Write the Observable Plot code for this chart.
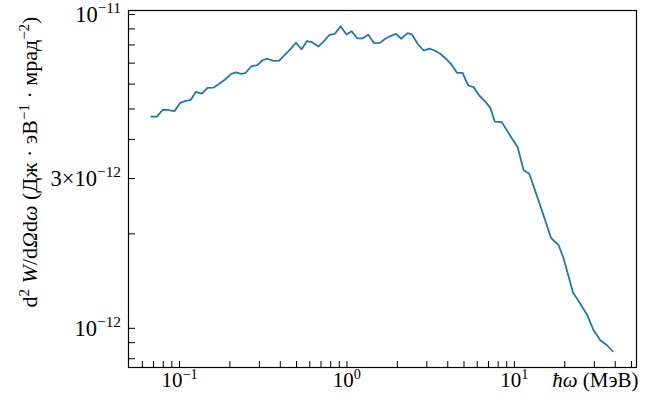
<!DOCTYPE html>
<html><head><meta charset="utf-8">
<script src="https://cdn.jsdelivr.net/npm/d3@7"></script>
<script src="https://cdn.jsdelivr.net/npm/@observablehq/plot@0.6"></script>
<style>
body{margin:0;background:#fff}
svg{display:block}
svg text, svg tspan{font-family:"Liberation Serif","Times New Roman","DejaVu Serif",serif !important;}
</style>
</head><body><div id="chart"></div>
<script>
// photon energy ħω, MeV
const energyMeV = [0.0678, 0.0733, 0.0796, 0.0860, 0.0933, 0.101, 0.108, 0.117, 0.125, 0.136,
  0.147, 0.160, 0.173, 0.1875, 0.203, 0.217, 0.234, 0.247, 0.268, 0.292,
  0.313, 0.3355, 0.364, 0.394, 0.428, 0.463, 0.496, 0.536, 0.577, 0.618,
  0.677, 0.725, 0.787, 0.848, 0.916, 0.994, 1.065, 1.152, 1.243, 1.340,
  1.450, 1.574, 1.694, 1.814, 1.962, 2.111, 2.301, 2.445, 2.642, 2.869,
  3.102, 3.337, 3.608, 3.903, 4.216, 4.541, 4.905, 5.305, 5.705, 6.17,
  6.66, 7.18, 7.64, 8.41, 9.36, 10.45, 11.35, 12.27, 14.28, 16.55,
  18.37, 19.68, 22.39, 24.42, 27.15, 29.73, 32.6, 35.74, 38.61];
// d2W/dΩdω, J·eV^-1·mrad^-2
const spectrum = [4.73e-12, 4.73e-12, 4.98e-12, 4.96e-12, 4.92e-12, 5.23e-12, 5.30e-12, 5.35e-12, 5.67e-12, 5.60e-12,
  5.84e-12, 5.85e-12, 6.02e-12, 6.21e-12, 6.46e-12, 6.54e-12, 6.47e-12, 6.50e-12, 6.83e-12, 6.90e-12,
  7.15e-12, 7.23e-12, 7.12e-12, 7.13e-12, 7.47e-12, 7.79e-12, 8.13e-12, 7.75e-12, 8.22e-12, 8.16e-12,
  7.91e-12, 8.20e-12, 8.62e-12, 8.68e-12, 9.18e-12, 8.64e-12, 8.85e-12, 8.40e-12, 8.40e-12, 8.62e-12,
  8.11e-12, 8.12e-12, 8.37e-12, 8.53e-12, 8.68e-12, 8.37e-12, 8.72e-12, 8.64e-12, 8.07e-12, 7.68e-12,
  7.79e-12, 7.68e-12, 7.50e-12, 7.23e-12, 6.92e-12, 6.52e-12, 6.52e-12, 5.94e-12, 5.87e-12, 5.52e-12,
  5.30e-12, 5.04e-12, 4.56e-12, 4.54e-12, 4.14e-12, 3.78e-12, 3.19e-12, 3.11e-12, 2.46e-12, 1.94e-12,
  1.84e-12, 1.67e-12, 1.30e-12, 1.21e-12, 1.105e-12, 0.985e-12, 0.916e-12, 0.883e-12, 0.845e-12];

const xMajorTicks = [0.1, 1, 10];
const xTickLabels = [["10", "−1"], ["10", "0"], ["10", "1"]];
const xAllTicks = [0.06, 0.07, 0.08, 0.09, 0.1, 0.2, 0.3, 0.4, 0.5, 0.6, 0.7, 0.8, 0.9,
  1, 2, 3, 4, 5, 6, 7, 8, 9, 10, 20, 30, 40, 50];
const yMajorTicks = [1e-11, 3e-12, 1e-12];
const yTickLabels = [["10", "−11"], ["3×10", "−12"], ["10", "−12"]];
const yAllTicks = [8e-13, 9e-13, 1e-12, 2e-12, 3e-12, 4e-12, 5e-12, 6e-12, 7e-12, 8e-12, 9e-12, 1e-11];
const xLabelParts = [["ħω", "it"], [" (МэВ)", ""]];
const yLabelParts = [["d", ""], ["2", "sup"], [" ", ""], ["W", "it"], ["/d", ""], ["Ω", "it"], ["d", ""], ["ω", "it"],
  [" (Дж · эВ", ""], ["−1", "sup"], [" · мрад", ""], ["−2", "sup"], [")", ""]];

const data = energyMeV.map((e, i) => ({e, w: spectrum[i]}));
const W = 645, H = 400, mL = 128, mR = 9, mT = 10, mB = 33;
const FSX = 21, FSY = 22.5, FSL = 22;
const FONT = '"Liberation Serif", "Times New Roman", serif';

const plot = Plot.plot({
  width: W, height: H, marginLeft: mL, marginRight: mR, marginTop: mT, marginBottom: mB,
  style: {background: "#fff", color: "#000"},
  x: {type: "log", domain: [0.0496, 53.6], axis: null},
  y: {type: "log", domain: [7.5e-13, 1.03e-11], axis: null},
  marks: [
    Plot.tickX(xAllTicks, {x: d => d, insetTop: H - mT - mB - 6, stroke: "#000", strokeWidth: 1}),
    Plot.tickY(yAllTicks, {y: d => d, insetRight: W - mL - mR - 7, stroke: "#000", strokeWidth: 1}),
    Plot.line(data, {x: "e", y: "w", stroke: "#1f77b4", strokeWidth: 1.8}),
    Plot.frame({stroke: "#000", strokeWidth: 1.2}),
    Plot.text(xMajorTicks, {x: d => d, frameAnchor: "bottom", dy: 19.6, textAnchor: "middle", fill: "#000", fontSize: FSX, fontFamily: FONT,
      text: (d, i) => xTickLabels[i].join(""), ariaLabel: () => "xticklabel"}),
    Plot.text(yMajorTicks, {y: d => d, frameAnchor: "left", dx: -7.5, dy: 0.5, textAnchor: "end", fill: "#000", fontSize: FSY, fontFamily: FONT,
      text: (d, i) => yTickLabels[i].join(""), ariaLabel: () => "yticklabel"}),
    Plot.text([xLabelParts.map(p => p[0]).join("")], {frameAnchor: "bottom-right", dx: 2, dy: 19.6, textAnchor: "end",
      fill: "#000", fontSize: FSX, fontFamily: FONT, ariaLabel: () => "xlabel"}),
    Plot.text([yLabelParts.map(p => p[0]).join("")], {frameAnchor: "left", dx: -99, dy: -27, rotate: -90, textAnchor: "middle",
      fill: "#000", fontSize: FSL, fontFamily: FONT, ariaLabel: () => "ylabel"})
  ]
});
document.getElementById("chart").append(plot);

const NS = "http://www.w3.org/2000/svg";
function setRich(el, parts, fs) {
  el.textContent = "";
  for (const [s, st] of parts) {
    const t = document.createElementNS(NS, "tspan");
    t.textContent = s;
    if (st === "sup") {
      t.setAttribute("font-size", (fs * 0.68).toFixed(1));
      t.setAttribute("baseline-shift", (fs * 0.38).toFixed(1));
    } else if (st === "it") {
      t.setAttribute("font-style", "italic");
    }
    el.append(t);
  }
}
const svg = d3.select(plot);
svg.selectAll('text[aria-label="xticklabel"]').each(function(d, i) {
  setRich(this, [[xTickLabels[i][0], ""], [xTickLabels[i][1], "sup"]], FSX);
});
svg.selectAll('text[aria-label="yticklabel"]').each(function(d, i) {
  setRich(this, [[yTickLabels[i][0], ""], [yTickLabels[i][1], "sup"]], FSY);
});
svg.selectAll('text[aria-label="xlabel"]').each(function() { setRich(this, xLabelParts, FSX); });
svg.selectAll('text[aria-label="ylabel"]').each(function() { setRich(this, yLabelParts, FSL); });
</script>
</body></html>
